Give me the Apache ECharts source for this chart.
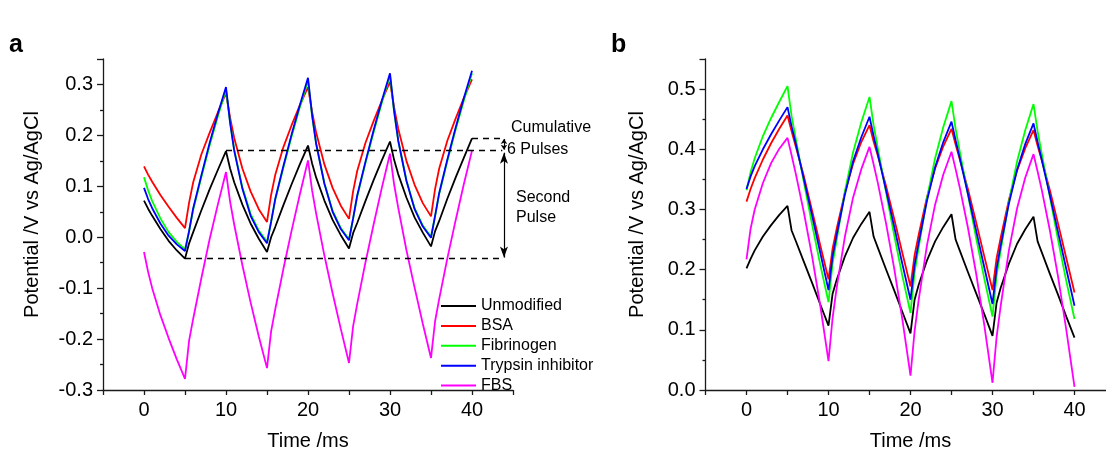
<!DOCTYPE html>
<html>
<head>
<meta charset="utf-8">
<script src="https://cdn.jsdelivr.net/npm/echarts@6/dist/echarts.min.js"></script>
<style>
  html, body { margin: 0; padding: 0; background: #fff; }
  #main { width: 1106px; height: 452px; }
</style>
</head>
<body>
<div id="main"></div>
<script>
// time base (ms), shared by every curve
const timeMs = [0, 0.5, 1, 2, 3, 4, 5, 5.5, 6, 7, 8, 9, 10, 10.5, 11, 12, 13, 14,
  15, 15.5, 16, 17, 18, 19, 20, 20.5, 21, 22, 23, 24, 25, 25.5, 26, 27, 28, 29,
  30, 30.5, 31, 32, 33, 34, 35, 35.5, 36, 37, 38, 39, 40];

const seriesNames = ['Unmodified', 'BSA', 'Fibrinogen', 'Trypsin inhibitor', 'FBS'];
const seriesColors = ['#000000', '#ff0000', '#00ff00', '#0000ff', '#ff00ff'];

// panel a (V vs Ag/AgCl)
const unmodA = [0.072, 0.056, 0.042, 0.016, -0.007, -0.026, -0.042, -0.012, 0.010, 0.053, 0.094, 0.132,
  0.169, 0.135, 0.108, 0.064, 0.027, -0.003, -0.029, 0.000, 0.020, 0.063, 0.104, 0.143,
  0.180, 0.145, 0.117, 0.072, 0.034, 0.004, -0.022, 0.008, 0.028, 0.071, 0.112, 0.151,
  0.188, 0.152, 0.124, 0.078, 0.039, 0.009, -0.018, 0.012, 0.032, 0.076, 0.117, 0.156, 0.194];
const bsaA = [0.139, 0.123, 0.109, 0.083, 0.060, 0.038, 0.018, 0.068, 0.108, 0.163, 0.205, 0.245,
  0.283, 0.235, 0.195, 0.135, 0.090, 0.055, 0.030, 0.083, 0.122, 0.177, 0.220, 0.259,
  0.295, 0.246, 0.205, 0.143, 0.097, 0.062, 0.036, 0.090, 0.130, 0.185, 0.228, 0.268,
  0.305, 0.255, 0.213, 0.150, 0.103, 0.067, 0.041, 0.095, 0.135, 0.190, 0.233, 0.273, 0.310];
const fibA = [0.118, 0.092, 0.071, 0.037, 0.010, -0.009, -0.024, 0.012, 0.054, 0.118, 0.180, 0.237,
  0.290, 0.225, 0.172, 0.098, 0.046, 0.013, -0.009, 0.030, 0.073, 0.137, 0.198, 0.255,
  0.308, 0.238, 0.183, 0.106, 0.052, 0.018, -0.004, 0.036, 0.080, 0.145, 0.206, 0.264,
  0.318, 0.246, 0.190, 0.112, 0.057, 0.023, 0.001, 0.042, 0.085, 0.150, 0.211, 0.268, 0.322];
const trypA = [0.097, 0.075, 0.057, 0.027, 0.003, -0.014, -0.027, 0.012, 0.057, 0.122, 0.185, 0.242,
  0.295, 0.225, 0.170, 0.095, 0.042, 0.010, -0.012, 0.030, 0.075, 0.140, 0.202, 0.259,
  0.313, 0.240, 0.183, 0.105, 0.050, 0.016, -0.006, 0.037, 0.082, 0.148, 0.210, 0.268,
  0.322, 0.248, 0.190, 0.111, 0.055, 0.021, -0.001, 0.042, 0.087, 0.153, 0.215, 0.273, 0.327];
const fbsA = [-0.029, -0.068, -0.100, -0.153, -0.198, -0.240, -0.278, -0.203, -0.160, -0.080, -0.004, 0.064,
  0.128, 0.070, 0.025, -0.055, -0.128, -0.195, -0.257, -0.185, -0.142, -0.062, 0.013, 0.084,
  0.151, 0.092, 0.046, -0.036, -0.110, -0.180, -0.247, -0.175, -0.131, -0.050, 0.025, 0.097,
  0.164, 0.104, 0.058, -0.025, -0.099, -0.170, -0.237, -0.165, -0.121, -0.041, 0.033, 0.104, 0.170];

// panel b
const unmodB = [0.202, 0.218, 0.232, 0.255, 0.274, 0.291, 0.306, 0.265, 0.248, 0.213, 0.178, 0.142,
  0.107, 0.160, 0.183, 0.222, 0.253, 0.276, 0.296, 0.255, 0.237, 0.201, 0.166, 0.130,
  0.094, 0.150, 0.175, 0.215, 0.247, 0.271, 0.292, 0.250, 0.232, 0.196, 0.161, 0.126,
  0.090, 0.145, 0.170, 0.210, 0.243, 0.267, 0.288, 0.247, 0.229, 0.193, 0.158, 0.122, 0.087];
const bsaB = [0.313, 0.334, 0.352, 0.383, 0.410, 0.434, 0.456, 0.430, 0.405, 0.355, 0.298, 0.240,
  0.184, 0.235, 0.268, 0.328, 0.376, 0.412, 0.440, 0.413, 0.390, 0.340, 0.285, 0.228,
  0.172, 0.224, 0.258, 0.320, 0.368, 0.405, 0.434, 0.408, 0.384, 0.334, 0.279, 0.222,
  0.166, 0.219, 0.253, 0.316, 0.365, 0.402, 0.432, 0.406, 0.382, 0.332, 0.276, 0.219, 0.162];
const fibB = [0.332, 0.362, 0.385, 0.422, 0.452, 0.479, 0.505, 0.455, 0.418, 0.345, 0.275, 0.208,
  0.146, 0.210, 0.250, 0.330, 0.395, 0.445, 0.487, 0.440, 0.403, 0.330, 0.258, 0.190,
  0.128, 0.195, 0.237, 0.318, 0.385, 0.437, 0.480, 0.434, 0.397, 0.325, 0.253, 0.185,
  0.122, 0.190, 0.232, 0.313, 0.380, 0.432, 0.475, 0.430, 0.393, 0.321, 0.249, 0.181, 0.118];
const trypB = [0.334, 0.355, 0.372, 0.400, 0.425, 0.448, 0.470, 0.438, 0.410, 0.350, 0.290, 0.228,
  0.166, 0.222, 0.258, 0.325, 0.380, 0.420, 0.454, 0.422, 0.393, 0.333, 0.272, 0.210,
  0.150, 0.208, 0.245, 0.314, 0.370, 0.412, 0.446, 0.415, 0.386, 0.326, 0.265, 0.204,
  0.143, 0.202, 0.240, 0.310, 0.366, 0.409, 0.443, 0.412, 0.383, 0.323, 0.262, 0.201, 0.140];
const fbsB = [0.217, 0.268, 0.300, 0.344, 0.377, 0.401, 0.419, 0.390, 0.360, 0.295, 0.222, 0.140,
  0.048, 0.120, 0.170, 0.255, 0.320, 0.367, 0.404, 0.375, 0.345, 0.278, 0.203, 0.118,
  0.024, 0.098, 0.150, 0.240, 0.308, 0.358, 0.396, 0.367, 0.337, 0.270, 0.194, 0.108,
  0.012, 0.088, 0.140, 0.232, 0.302, 0.353, 0.392, 0.363, 0.333, 0.265, 0.188, 0.100, 0.005];

// annotation levels on panel a (V)
const secondPulseLow = -0.042;
const secondPulseHigh = 0.170;
const cumulativeHigh = 0.194;

const FONT = 'Liberation Sans, Arial, sans-serif';
const AXIS_COLOR = '#1a1a1a';

const pair = (vals) => vals.map((v, i) => [timeMs[i], v]);

const xAxisFor = (gridIndex) => ({
    type: 'value', gridIndex: gridIndex,
    min: -5, max: 45, interval: 5,
    name: 'Time /ms', nameLocation: 'middle', nameGap: 41,
    nameTextStyle: { fontFamily: FONT, fontSize: 20, color: '#000' },
    axisLine: { onZero: false, lineStyle: { color: AXIS_COLOR, width: 1.3 } },
    axisTick: { length: 5, lineStyle: { color: AXIS_COLOR, width: 1.3 } },
    axisLabel: {
        margin: 10, fontFamily: FONT, fontSize: 20, color: '#000',
        formatter: (v) => (v >= 0 && v <= 40 && v % 10 === 0) ? String(v) : ''
    },
    splitLine: { show: false }
});

const yAxisFor = (gridIndex, min, max, gap) => ({
    type: 'value', gridIndex: gridIndex,
    min: min, max: max, interval: 0.1,
    name: 'Potential /V vs Ag/AgCl', nameLocation: 'middle', nameGap: gap,
    // left padding lifts the rotated title a little above the axis middle
    nameTextStyle: { fontFamily: FONT, fontSize: 20, color: '#000', padding: [0, 0, 0, 20] },
    axisLine: { show: true, onZero: false, lineStyle: { color: AXIS_COLOR, width: 1.3 } },
    axisTick: { show: true, length: 6, lineStyle: { color: AXIS_COLOR, width: 1.3 } },
    minorTick: { show: true, splitNumber: 2, length: 3, lineStyle: { color: AXIS_COLOR, width: 1.3 } },
    axisLabel: {
        margin: 10, fontFamily: FONT, fontSize: 20, color: '#000', showMaxLabel: false,
        formatter: (v) => (Math.abs(v) < 1e-9 ? 0 : v).toFixed(1)
    },
    splitLine: { show: false }
});

const lineSeries = (name, color, vals, idx) => ({
    name: name, type: 'line',
    xAxisIndex: idx, yAxisIndex: idx,
    data: pair(vals),
    symbol: 'none', smooth: false,
    lineStyle: { color: color, width: 1.8 },
    itemStyle: { color: color },
    emphasis: { disabled: true },
    silent: true
});

const panelA = [unmodA, bsaA, fibA, trypA, fbsA];
const panelB = [unmodB, bsaB, fibB, trypB, fbsB];

const series = [];
panelA.forEach((vals, i) => series.push(lineSeries(seriesNames[i], seriesColors[i], vals, 0)));
panelB.forEach((vals, i) => series.push(lineSeries(seriesNames[i], seriesColors[i], vals, 1)));

// dashed guide lines
series[0].markLine = {
    silent: true, symbol: 'none', animation: false,
    label: { show: false },
    lineStyle: { color: '#000', type: [6, 5], width: 1.4 },
    emphasis: { disabled: true },
    data: [
        [{ coord: [5, secondPulseLow] }, { coord: [43.7, secondPulseLow] }],
        [{ coord: [10, secondPulseHigh] }, { coord: [43.7, secondPulseHigh] }],
        [{ coord: [40, cumulativeHigh] }, { coord: [43.5, cumulativeHigh] }]
    ]
};
// double arrows
series[1].markLine = {
    silent: true, symbol: ['arrow', 'arrow'], symbolSize: [6, 11], animation: false,
    label: { show: false },
    lineStyle: { color: '#000', type: 'solid', width: 1.2 },
    emphasis: { disabled: true },
    data: [
        [{ coord: [43.9, secondPulseHigh - 0.004] }, { coord: [43.9, secondPulseLow + 0.002] }]
    ]
};
series[2].markLine = {
    silent: true, symbol: ['arrow', 'arrow'], symbolSize: [5, 5], animation: false,
    label: { show: false },
    lineStyle: { color: '#000', type: 'solid', width: 1.2 },
    emphasis: { disabled: true },
    data: [
        [{ coord: [43.9, cumulativeHigh - 0.001] }, { coord: [43.9, secondPulseHigh + 0.002] }]
    ]
};

const note = (text, x, y) => ({
    type: 'text', x: x, y: y, silent: true,
    style: { text: text, fontFamily: FONT, fontSize: 16, fill: '#000', verticalAlign: 'middle' }
});

const option = {
    animation: false,
    backgroundColor: '#ffffff',
    grid: [
        { left: 103, top: 59, width: 410, height: 331, outerBoundsMode: 'none' },
        { left: 705.5, top: 59, width: 410, height: 331, outerBoundsMode: 'none' }
    ],
    xAxis: [xAxisFor(0), xAxisFor(1)],
    yAxis: [yAxisFor(0, -0.3, 0.35, 61), yAxisFor(1, 0, 0.55, 58)],
    legend: {
        orient: 'vertical', left: 441, top: 298, padding: 0,
        icon: 'rect', itemWidth: 35, itemHeight: 2, itemGap: 3.9,
        data: seriesNames,
        selectedMode: false,
        textStyle: { fontFamily: FONT, fontSize: 16, color: '#000' }
    },
    graphic: [
        { type: 'text', x: 9, y: 33, silent: true,
          style: { text: 'a', fontFamily: FONT, fontSize: 25, fontWeight: 'bold', fill: '#000', verticalAlign: 'alphabetic' } },
        { type: 'text', x: 611, y: 33, silent: true,
          style: { text: 'b', fontFamily: FONT, fontSize: 25, fontWeight: 'bold', fill: '#000', verticalAlign: 'alphabetic' } },
        note('Cumulative', 511, 128),
        note('6 Pulses', 507, 150),
        note('Second', 516, 198),
        note('Pulse', 516, 218)
    ],
    series: series
};

const chart = echarts.init(document.getElementById('main'), null, { renderer: 'canvas' });
chart.setOption(option);
</script>
</body>
</html>
